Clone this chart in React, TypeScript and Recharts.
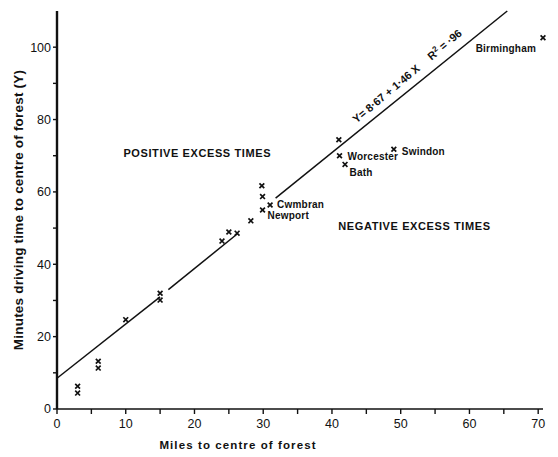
import { ScatterChart, Scatter, XAxis, YAxis } from 'recharts';

// observed towns: miles to forest centre vs driving minutes
const miles = [3, 3, 6, 6, 10, 15, 15, 24, 25, 26.2, 28.2, 29.8, 29.9, 29.9, 31, 41, 41.1, 41.9, 49, 70.7];
const minutes = [6.3, 4.4, 13.2, 11.3, 24.7, 32, 30.1, 46.4, 48.9, 48.6, 52, 61.7, 58.7, 55, 56.4, 74.4, 70, 67.6, 71.8, 102.6];
const towns = ['', '', '', '', '', '', '', '', '', '', '', '', '', 'Newport', 'Cwmbran', '', 'Worcester', 'Bath', 'Swindon', 'Birmingham'];

// regression line as drawn (broken where it passes the markers)
const fitMiles = [[0, 15], [16.2, 26.3], [31.8, 65.5]];
const fitMinutes = [[8.5, 31], [33, 48.5], [58.3, 110]];

const xTicks = [0, 5, 10, 15, 20, 25, 30, 35, 40, 45, 50, 55, 60, 65, 70];
const yTicks = [0, 10, 20, 30, 40, 50, 60, 70, 80, 90, 100];

const notes = [
  { x: 20.4, y: 69.6, text: 'POSITIVE  EXCESS  TIMES', kind: 'zone' },
  { x: 52, y: 49.6, text: 'NEGATIVE  EXCESS  TIMES', kind: 'zone' },
  { x: 51.3, y: 91.2, text: 'Y= 8·67 + 1·46 X', kind: 'eq' },
];

const points = miles.map((m, i) => ({ x: m, y: minutes[i], town: towns[i] }));
const fitSegments = fitMiles.map((xs, s) => xs.map((x, j) => ({ x, y: fitMinutes[s][j] })));

const INK = '#111';
const FONT = '"Liberation Sans", Arial, sans-serif';

const labelPos: Record<string, [number, number, 'start' | 'end']> = {
  Cwmbran: [7, 3, 'start'],
  Newport: [5, 9, 'start'],
  Worcester: [8, 4, 'start'],
  Bath: [4.5, 12, 'start'],
  Swindon: [8, 6, 'start'],
  Birmingham: [-7, 14, 'end'],
};

function Cross(props: any) {
  const { cx, cy, payload } = props;
  const s = 2.4;
  const lp = labelPos[payload.town];
  return (
    <g>
      <path d={`M${cx - s},${cy - s}L${cx + s},${cy + s}M${cx + s},${cy - s}L${cx - s},${cy + s}`} stroke={INK} strokeWidth={1.7} />
      {lp && (
        <text x={cx + lp[0]} y={cy + lp[1]} textAnchor={lp[2]} fontSize={10} fontWeight="bold" fontFamily={FONT} fill={INK} letterSpacing={0.2}>
          {payload.town}
        </text>
      )}
    </g>
  );
}

function Note(props: any) {
  const { cx, cy, payload } = props;
  if (payload.kind === 'eq') {
    return (
      <text x={cx} y={cy} transform={`rotate(-40 ${cx} ${cy})`} textAnchor="middle" fontSize={11} fontWeight="bold" fontFamily={FONT} fill={INK}>
        {payload.text}
        <tspan dx={14}>R</tspan>
        <tspan dy={-4} fontSize={8}>2</tspan>
        <tspan dy={4}> = ·96</tspan>
      </text>
    );
  }
  return (
    <text x={cx} y={cy} textAnchor="middle" fontSize={11} fontWeight="bold" fontFamily={FONT} fill={INK} letterSpacing={0.6}>
      {payload.text}
    </text>
  );
}

const XLabel = (props: any) => {
  const vb = props.viewBox;
  return (
    <text x={vb.x + 181} y={vb.y + 40} textAnchor="middle" fontSize={11.5} fontWeight="bold" fontFamily={FONT} fill={INK} letterSpacing={1.1}>
      Miles to centre of forest
    </text>
  );
};

const YLabel = (props: any) => {
  const vb = props.viewBox;
  const x = 10;
  const y = vb.y + vb.height / 2;
  return (
    <text x={x} y={y} transform={`rotate(-90 ${x} ${y})`} textAnchor="middle" dominantBaseline="central" fontSize={13.5} fontWeight="bold" fontFamily={FONT} fill={INK} letterSpacing={0.2}>
      Minutes driving time to centre of forest (Y)
    </text>
  );
};

export default function App() {
  return (
    <div style={{ width: 550, height: 449, background: '#fff' }}>
      <ScatterChart width={550} height={449} margin={{ top: 3, right: 15, bottom: 0, left: 0 }}>
        <XAxis
          type="number"
          dataKey="x"
          domain={[0, 70]}
          ticks={xTicks}
          tickFormatter={(v: number) => (v % 10 === 0 ? String(v) : '')}
          height={48}
          tickSize={5}
          tickMargin={5}
          axisLine={{ stroke: INK, strokeWidth: 1.6 }}
          tickLine={{ stroke: INK, strokeWidth: 1.4 }}
          tick={{ fill: INK, fontSize: 12.5, fontFamily: FONT }}
          label={{ content: XLabel }}
        />
        <YAxis
          type="number"
          dataKey="y"
          domain={[0, 110]}
          ticks={yTicks}
          tickFormatter={(v: number) => (v % 20 === 0 ? String(v) : '')}
          width={49}
          tickSize={4}
          tickMargin={2}
          axisLine={{ stroke: INK, strokeWidth: 2.4 }}
          tickLine={{ stroke: INK, strokeWidth: 1.4 }}
          tick={{ fill: INK, fontSize: 12.5, fontFamily: FONT }}
          label={{ content: YLabel }}
        />
        {fitSegments.map((seg, i) => (
          <Scatter
            key={i}
            data={seg}
            line={{ stroke: INK, strokeWidth: 1.5 }}
            shape={() => <g />}
            isAnimationActive={false}
          />
        ))}
        <Scatter data={points} shape={Cross} isAnimationActive={false} />
        <Scatter data={notes} shape={Note} isAnimationActive={false} />
      </ScatterChart>
    </div>
  );
}
